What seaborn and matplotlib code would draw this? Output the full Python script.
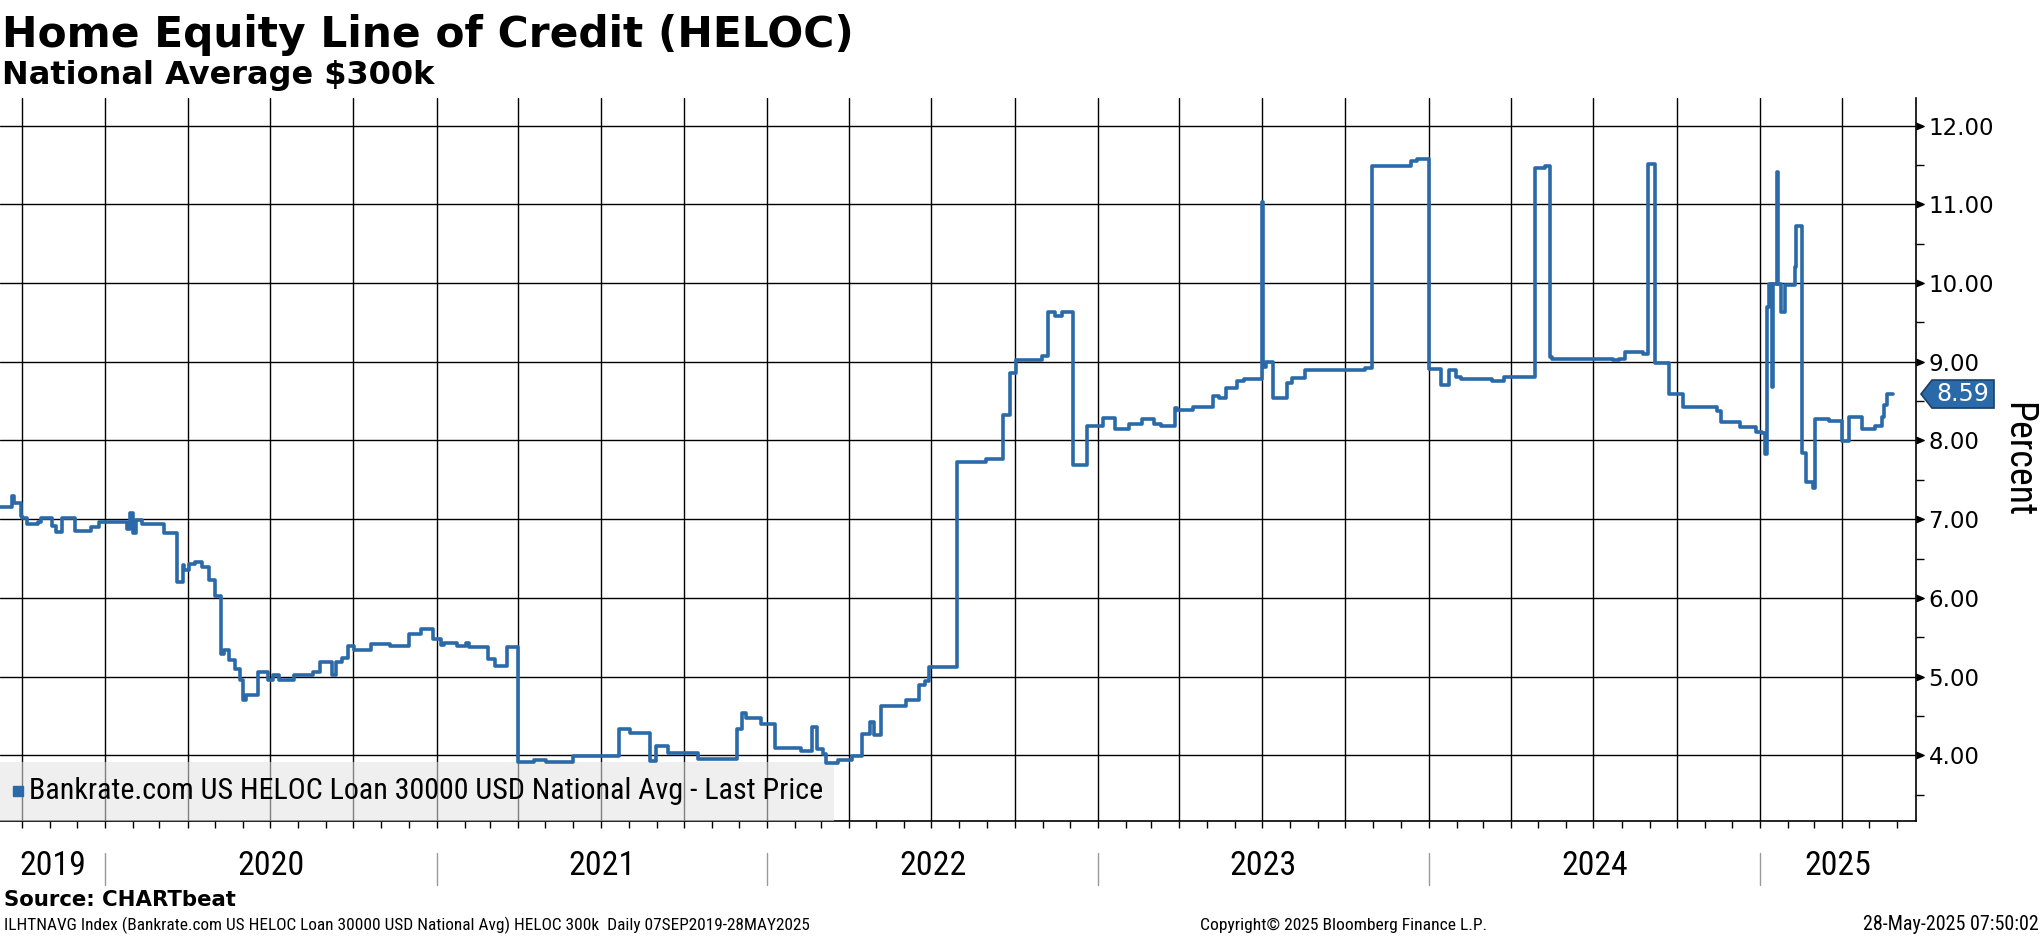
"""
HELOC national average, Bloomberg style line chart
"""

import matplotlib
matplotlib.use("Agg")
import matplotlib.pyplot as plt
import matplotlib.dates as mdates
from matplotlib import font_manager as fm
from matplotlib.patches import Polygon, Rectangle
from matplotlib.ticker import MultipleLocator, NullFormatter
from matplotlib.transforms import IdentityTransform
import pandas as pd
import seaborn as sns

# step points (date of change, rate after it)
dates = [
    "2019-09-07", "2019-09-20", "2019-09-23", "2019-09-30", "2019-10-01", "2019-10-07",
    "2019-10-19", "2019-10-22", "2019-11-03", "2019-11-08", "2019-11-14", "2019-11-29",
    "2019-12-16", "2019-12-25", "2020-01-09", "2020-01-25", "2020-01-29", "2020-02-01",
    "2020-02-04", "2020-02-11", "2020-03-06", "2020-03-20", "2020-03-27", "2020-03-28",
    "2020-04-03", "2020-04-09", "2020-04-17", "2020-04-25", "2020-05-01", "2020-05-08",
    "2020-05-11", "2020-05-17", "2020-05-23", "2020-05-29", "2020-06-01", "2020-06-05",
    "2020-06-18", "2020-06-29", "2020-07-04", "2020-07-11", "2020-07-28", "2020-08-17",
    "2020-08-25", "2020-09-08", "2020-09-12", "2020-09-19", "2020-09-25", "2020-10-02",
    "2020-10-20", "2020-11-11", "2020-12-02", "2020-12-15", "2020-12-28", "2021-01-06",
    "2021-01-09", "2021-01-23", "2021-02-02", "2021-02-06", "2021-02-27", "2021-03-06",
    "2021-03-20", "2021-04-01", "2021-04-19", "2021-05-02", "2021-05-31", "2021-07-21",
    "2021-08-02", "2021-08-24", "2021-08-31", "2021-09-13", "2021-10-16", "2021-11-28",
    "2021-12-04", "2021-12-09", "2021-12-25", "2022-01-09", "2022-02-07", "2022-02-19",
    "2022-02-25", "2022-03-04", "2022-03-07", "2022-03-20", "2022-04-04", "2022-04-15",
    "2022-04-24", "2022-04-29", "2022-05-06", "2022-06-03", "2022-06-18", "2022-06-24",
    "2022-06-29", "2022-07-29", "2022-08-30", "2022-09-18", "2022-09-26", "2022-10-03",
    "2022-10-31", "2022-11-07", "2022-11-15", "2022-11-22", "2022-12-04", "2022-12-20",
    "2023-01-07", "2023-01-20", "2023-02-04", "2023-02-19", "2023-03-04", "2023-03-12",
    "2023-03-27", "2023-03-29", "2023-04-16", "2023-05-08", "2023-05-15", "2023-05-22",
    "2023-06-04", "2023-06-11", "2023-07-01", "2023-07-02", "2023-07-05", "2023-07-13",
    "2023-07-29", "2023-08-03", "2023-08-17", "2023-10-23", "2023-10-31", "2023-12-13",
    "2023-12-19", "2024-01-01", "2024-01-15", "2024-01-24", "2024-01-31", "2024-02-06",
    "2024-03-11", "2024-03-24", "2024-04-27", "2024-05-09", "2024-05-14", "2024-05-16",
    "2024-07-23", "2024-07-29", "2024-08-05", "2024-08-25", "2024-08-30", "2024-09-07",
    "2024-09-22", "2024-10-08", "2024-11-14", "2024-11-19", "2024-12-10", "2024-12-27",
    "2025-01-03", "2025-01-06", "2025-01-09", "2025-01-11", "2025-01-14", "2025-01-15",
    "2025-01-20", "2025-01-21", "2025-01-24", "2025-01-28", "2025-02-08", "2025-02-09",
    "2025-02-16", "2025-02-21", "2025-02-28", "2025-03-02", "2025-03-18", "2025-04-01",
    "2025-04-09", "2025-04-23", "2025-05-08", "2025-05-15", "2025-05-18", "2025-05-21",
    "2025-05-28",
]
rates = [
    7.15, 7.30, 7.21, 7.04, 7.01, 6.94,
    6.97, 7.02, 6.91, 6.84, 7.02, 6.85,
    6.90, 6.96, 6.97, 6.88, 7.08, 6.82,
    6.99, 6.94, 6.82, 6.20, 6.42, 6.35,
    6.43, 6.46, 6.39, 6.23, 6.02, 5.29,
    5.34, 5.21, 5.10, 4.96, 4.71, 4.77,
    5.06, 4.96, 5.02, 4.96, 5.02, 5.06,
    5.19, 5.02, 5.19, 5.24, 5.39, 5.34,
    5.41, 5.39, 5.54, 5.61, 5.48, 5.40,
    5.43, 5.39, 5.43, 5.38, 5.23, 5.14,
    5.38, 3.92, 3.94, 3.92, 3.99, 4.33,
    4.29, 3.93, 4.12, 4.03, 3.96, 4.34,
    4.54, 4.47, 4.40, 4.10, 4.05, 4.36,
    4.08, 4.02, 3.91, 3.94, 3.99, 4.27,
    4.43, 4.26, 4.63, 4.70, 4.89, 4.95,
    5.12, 7.73, 7.77, 8.32, 8.86, 9.02,
    9.07, 9.63, 9.58, 9.63, 7.69, 8.18,
    8.28, 8.14, 8.21, 8.27, 8.21, 8.19,
    8.41, 8.39, 8.42, 8.57, 8.54, 8.67,
    8.75, 8.78, 11.03, 8.93, 9.00, 8.54,
    8.73, 8.80, 8.89, 8.92, 11.48, 11.55,
    11.58, 8.91, 8.71, 8.90, 8.81, 8.78,
    8.76, 8.81, 11.46, 11.48, 9.06, 9.04,
    9.02, 9.04, 9.13, 9.10, 11.51, 8.98,
    8.59, 8.43, 8.38, 8.23, 8.17, 8.11,
    8.09, 7.83, 9.69, 9.99, 8.68, 9.99,
    11.41, 9.99, 9.63, 9.97, 10.20, 10.73,
    7.84, 7.47, 7.40, 8.27, 8.25, 7.99,
    8.30, 8.15, 8.18, 8.30, 8.45, 8.59,
    8.59,
]

y_ticks = [4, 5, 6, 7, 8, 9, 10, 11, 12]
years = ["2019", "2020", "2021", "2022", "2023", "2024", "2025"]
x_start, x_end = "2019-09-07", "2025-06-22"
y_min, y_max = 3.167, 12.35

title = "Home Equity Line of Credit (HELOC)"
subtitle = "National Average $300k"
series_name = "Bankrate.com US HELOC Loan 30000 USD National Avg - Last Price"
source = "Source: CHARTbeat"
foot_left = ("ILHTNAVG Index (Bankrate.com US HELOC Loan 30000 USD National Avg) "
             "HELOC 300k  Daily 07SEP2019-28MAY2025")
foot_mid = "Copyright\u00a9 2025 Bloomberg Finance L.P."
foot_right = "28-May-2025 07:50:02"

BLUE = "#2a6aa9"


def narrow_font():
    """Narrowest regular sans that is installed, else DejaVu Sans."""
    prefer = ["Liberation Sans Narrow", "Roboto Condensed", "DejaVu Sans Condensed",
              "Noto Sans Condensed", "Open Sans Condensed"]
    regular = [f for f in fm.fontManager.ttflist
               if f.style == "normal" and f.weight in (400, "normal", "regular", "book")]
    for name in prefer:
        for f in regular:
            if f.name == name:
                return fm.FontProperties(fname=f.fname)
    for f in regular:
        if f.stretch in ("condensed", "semi-condensed", "extra-condensed"):
            return fm.FontProperties(fname=f.fname)
    return fm.FontProperties(family="DejaVu Sans")


sns.set_theme(style="white")
plt.rcParams["font.family"] = ["DejaVu Sans"]
for key in ["text.color", "axes.labelcolor", "xtick.color", "ytick.color"]:
    plt.rcParams[key] = "black"

W, H = 2041, 936
fig = plt.figure(figsize=(W / 100, H / 100), dpi=100)
ax_left, ax_right, ax_top, ax_bot = 0, 1916, 98, 821
ax = fig.add_axes([ax_left / W, 1 - ax_bot / H, (ax_right - ax_left) / W, (ax_bot - ax_top) / H])
renderer = fig.canvas.get_renderer()
narrow = narrow_font()


def fit(t, size_px):
    # scale the font so the text's long side is size_px wide
    bb = t.get_window_extent(renderer)
    t.set_fontsize(t.get_fontsize() * size_px / max(bb.width, bb.height))
    return t


df = pd.DataFrame({"date": pd.to_datetime(dates), "rate": rates})
sns.lineplot(data=df, x="date", y="rate", ax=ax, color=BLUE, linewidth=2.6,
             drawstyle="steps-post", legend=False, zorder=4)

ax.set_xlim(pd.Timestamp(x_start), pd.Timestamp(x_end))
ax.set_ylim(y_min, y_max)
ax.set_xlabel("")
ax.set_ylabel("")

# grid: quarters on x, whole percents on y
ax.xaxis.set_major_locator(mdates.MonthLocator(bymonth=[1, 4, 7, 10]))
ax.xaxis.set_minor_locator(mdates.MonthLocator())
ax.xaxis.set_major_formatter(NullFormatter())
ax.grid(True, which="major", color="black", linewidth=1.0)
ax.set_axisbelow(True)

ax.yaxis.tick_right()
ax.set_yticks(y_ticks)
ax.set_yticklabels([f"{v:.2f}" for v in y_ticks])
ax.yaxis.set_minor_locator(MultipleLocator(0.5))
ax.tick_params(axis="y", which="major", length=0, pad=9, labelsize=16.5)
ax.tick_params(axis="y", which="minor", right=True, length=6, width=1, color="black", direction="out")
ax.tick_params(axis="x", which="both", bottom=True, length=5, width=1, color="black", direction="out")

for side in ["left", "top"]:
    ax.spines[side].set_visible(False)
for side in ["right", "bottom"]:
    ax.spines[side].set_color("black")
    ax.spines[side].set_linewidth(1.2)

# arrow heads on the major y ticks
ax.plot([1.0] * len(y_ticks), y_ticks, ls="none", marker=[(0, -0.85), (2, 0), (0, 0.85)],
        ms=11, color="black", transform=ax.get_yaxis_transform(), clip_on=False)

fit(ax.text(1.053, 0.5, "Percent", transform=ax.transAxes, rotation=270, ha="center",
            va="center", fontsize=26, fontproperties=narrow), 115)

# years under the axis, separated by thin lines
xt = ax.get_xaxis_transform()
x0, x1 = pd.Timestamp(x_start), pd.Timestamp(x_end)
for i, yr in enumerate(years):
    a = max(pd.Timestamp(f"{yr}-01-01"), x0)
    b = min(pd.Timestamp(f"{int(yr) + 1}-01-01"), x1)
    t = ax.text(a + (b - a) / 2, -0.062, yr, transform=xt, ha="center", va="center",
                fontproperties=narrow)
    fit(t, 66)
    if i > 0:
        ax.plot([a, a], [-0.044, -0.0885], transform=xt, color="#999999", lw=1, clip_on=False)

# legend strip in the lower-left corner
ax.add_patch(Rectangle((0, 0), 834 / 1916, 0.0816, transform=ax.transAxes,
                       facecolor="#e4e4e4", alpha=0.56, edgecolor="none", zorder=3))
ax.plot([18 / 1916], [0.0415], marker="s", ms=7.5, color=BLUE, transform=ax.transAxes,
        ls="none", zorder=5)
fit(ax.text(29 / 1916, 0.0415, series_name, transform=ax.transAxes, va="center", ha="left",
            fontproperties=narrow, zorder=5), 791)

# last value tag
last = rates[-1]
ex = ax.transAxes.transform((1, 0))[0]
ey = ax.transData.transform((0, last))[1]
fig.add_artist(Polygon([(ex + 5, ey), (ex + 16, ey + 14), (ex + 78, ey + 14), (ex + 78, ey - 14),
                        (ex + 16, ey - 14)], closed=True, transform=IdentityTransform(),
                       facecolor=BLUE, edgecolor="#1b3f66", linewidth=1.2))
fig.text(ex + 47, ey, f"{last:.2f}", transform=IdentityTransform(), ha="center", va="center",
         color="white", fontsize=17)

# titles and footer
fig.text(0.001, 1 - 47 / H, title, fontsize=30.5, weight="bold", va="baseline")
fig.text(0.001, 1 - 84 / H, subtitle, fontsize=23, weight="bold", va="baseline")
fig.text(0.002, 1 - 900 / H, source, fontsize=15.3, weight="bold", va="center")
fit(fig.text(0.002, 1 - 925 / H, foot_left, fontproperties=narrow, va="center"), 803)
fit(fig.text(1200 / W, 1 - 925 / H, foot_mid, fontproperties=narrow, va="center"), 286)
fit(fig.text(0.999, 1 - 925 / H, foot_right, fontproperties=narrow, va="center", ha="right"), 174)

fig.savefig("out.png", dpi=100, facecolor="white")
